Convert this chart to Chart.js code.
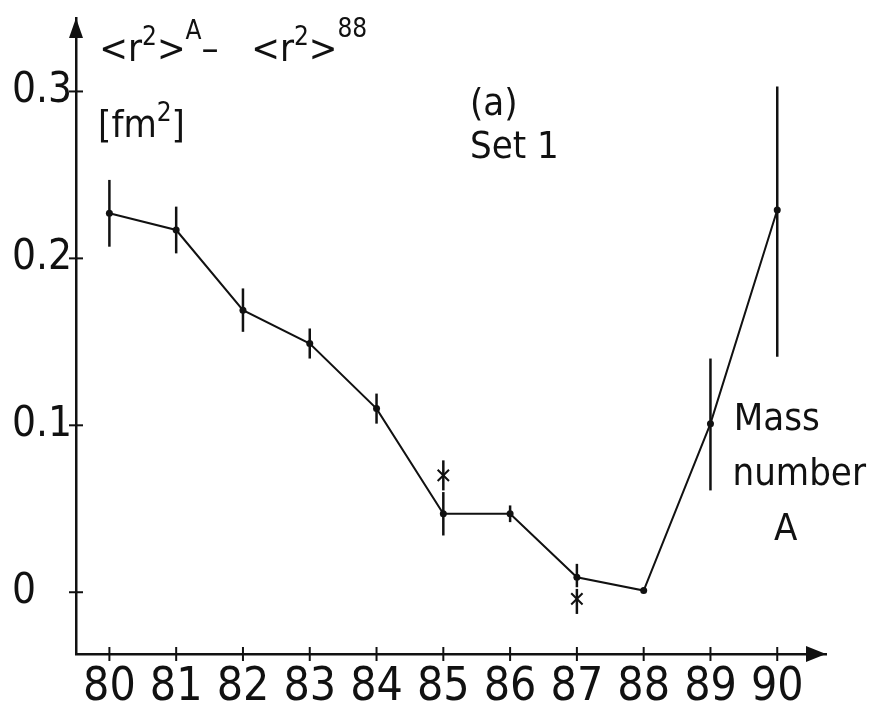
<!DOCTYPE html>
<html>
<head>
<meta charset="utf-8">
<script src="https://cdn.jsdelivr.net/npm/chart.js@4.4.1/dist/chart.umd.min.js"></script>
<style>
  html, body { margin: 0; padding: 0; background: #fff; }
  #wrap { width: 874px; height: 711px; }
</style>
</head>
<body>
<div id="wrap"><canvas id="chart-radius"></canvas></div>
<script>
// mass numbers and isotope shift <r2>^A - <r2>^88 (fm^2), set 1
const massNumbers = [80, 81, 82, 83, 84, 85, 86, 87, 88, 89, 90];
const deltaR2 = [0.227, 0.217, 0.169, 0.149, 0.110, 0.047, 0.047, 0.009, 0.001, 0.101, 0.229];
const errPlus = [0.020, 0.014, 0.013, 0.009, 0.009, 0.013, 0.005, 0.008, 0.0, 0.039, 0.074];
const errMinus = [0.020, 0.014, 0.013, 0.009, 0.009, 0.013, 0.005, 0.006, 0.0, 0.040, 0.088];

// crossed points (other measurement)
const crossMass = [85, 87];
const crossR2 = [0.070, -0.004];
const crossPlus = [0.009, 0.006];
const crossMinus = [0.009, 0.009];

const xTicks = [80, 81, 82, 83, 84, 85, 86, 87, 88, 89, 90];
const yTicks = [0, 0.1, 0.2, 0.3];
const yTickLabels = ["0", "0.1", "0.2", "0.3"];

const FONT = '"DejaVu Sans Condensed", "Liberation Sans Narrow", "DejaVu Sans", sans-serif';
const INK = "#111";

const errorBars = {
    id: "errorBars",
    afterDatasetsDraw(chart) {
        const ctx = chart.ctx;
        const x = chart.scales.x;
        const y = chart.scales.y;
        ctx.save();
        ctx.strokeStyle = INK;
        ctx.lineWidth = 2.5;
        chart.data.datasets.forEach((ds) => {
            if (!ds.errPlus) return;
            ds.data.forEach((p, i) => {
                const up = ds.errPlus[i];
                const dn = ds.errMinus[i];
                if (!up && !dn) return;
                const px = x.getPixelForValue(p.x);
                ctx.beginPath();
                ctx.moveTo(px, y.getPixelForValue(p.y - dn));
                ctx.lineTo(px, y.getPixelForValue(p.y + up));
                ctx.stroke();
            });
        });
        ctx.restore();
    },
};

// axis arrows, tick marks crossing the axes, and the labels in the plot
const axesDeco = {
    id: "axesDeco",
    afterDraw(chart) {
        const ctx = chart.ctx;
        const a = chart.chartArea;
        const x = chart.scales.x;
        const y = chart.scales.y;
        ctx.save();
        ctx.strokeStyle = INK;
        ctx.fillStyle = INK;
        ctx.lineWidth = 2;
        xTicks.forEach((t) => {
            const px = x.getPixelForValue(t);
            ctx.beginPath();
            ctx.moveTo(px, a.bottom - 7);
            ctx.lineTo(px, a.bottom + 7);
            ctx.stroke();
        });
        yTicks.forEach((t) => {
            const py = y.getPixelForValue(t);
            ctx.beginPath();
            ctx.moveTo(a.left - 7, py);
            ctx.lineTo(a.left + 7, py);
            ctx.stroke();
        });
        // arrow heads
        ctx.beginPath();
        ctx.moveTo(a.right, a.bottom);
        ctx.lineTo(a.right - 20, a.bottom - 8);
        ctx.lineTo(a.right - 20, a.bottom + 8);
        ctx.closePath();
        ctx.fill();
        ctx.beginPath();
        ctx.moveTo(a.left, a.top);
        ctx.lineTo(a.left - 7, a.top + 20);
        ctx.lineTo(a.left + 7, a.top + 20);
        ctx.closePath();
        ctx.fill();

        // text pieces: [text, size, dy]
        const runs = (px, py, parts) => {
            let cx = px;
            parts.forEach(([t, size, dy]) => {
                ctx.font = "300 " + size + "px " + FONT;
                ctx.fillText(t, cx, py + dy);
                cx += ctx.measureText(t).width;
            });
        };
        ctx.textBaseline = "alphabetic";
        ctx.textAlign = "left";
        const X = (v) => x.getPixelForValue(v);
        const Y = (v) => y.getPixelForValue(v);
        runs(X(79.85), Y(0.318), [["<r", 38, 0], ["2", 26, -16], [">", 38, 0], ["A", 26, -22], ["\u2013", 38, 0], ["   ", 38, 0], ["<r", 38, 0], ["2", 26, -16], [">", 38, 0], ["88", 26, -24]]);
        runs(X(79.83), Y(0.273), [["[fm", 38, 0], ["2", 26, -16], ["]", 38, 0]]);
        ctx.font = "300 38px " + FONT;
        ctx.fillText("(a)", X(85.4), Y(0.286));
        ctx.fillText("Set 1", X(85.4), Y(0.260));
        ctx.fillText("Mass", X(89.35), Y(0.097));
        ctx.fillText("number", X(89.33), Y(0.064));
        ctx.fillText("A", X(89.95), Y(0.031));
        ctx.restore();
    },
};

new Chart(document.getElementById("chart-radius"), {
    type: "scatter",
    data: {
        datasets: [
            {
                label: "Set 1",
                data: massNumbers.map((m, i) => ({ x: m, y: deltaR2[i] })),
                errPlus: errPlus,
                errMinus: errMinus,
                showLine: true,
                borderColor: INK,
                borderWidth: 2,
                backgroundColor: INK,
                pointRadius: 3.5,
                pointBorderWidth: 0,
                tension: 0,
            },
            {
                label: "other",
                data: crossMass.map((m, i) => ({ x: m, y: crossR2[i] })),
                errPlus: crossPlus,
                errMinus: crossMinus,
                showLine: false,
                pointStyle: "crossRot",
                pointRadius: 8,
                borderColor: INK,
                borderWidth: 2,
            },
        ],
    },
    options: {
        responsive: true,
        maintainAspectRatio: false,
        animation: false,
        layout: { padding: { top: 18, right: 48, left: 12, bottom: 0 } },
        plugins: {
            legend: { display: false },
            tooltip: { enabled: false },
        },
        scales: {
            x: {
                type: "linear",
                min: 79.5,
                max: 90.73,
                afterBuildTicks: (s) => { s.ticks = xTicks.map((v) => ({ value: v })); },
                afterFit: (s) => { s.height = 57; s.paddingLeft = 0; s.paddingRight = 0; },
                grid: { display: false, drawTicks: false },
                border: { display: true, color: INK, width: 2.5 },
                ticks: {
                    color: INK,
                    padding: 6,
                    font: { family: FONT, size: 46, weight: "300" },
                    maxRotation: 0,
                    autoSkip: false,
                    callback: (v) => String(v),
                },
            },
            y: {
                type: "linear",
                min: -0.037,
                max: 0.344,
                afterBuildTicks: (s) => { s.ticks = yTicks.map((v) => ({ value: v })); },
                afterFit: (s) => { s.width = 64; s.paddingTop = 0; s.paddingBottom = 0; },
                grid: { display: false, drawTicks: false },
                border: { display: true, color: INK, width: 2.5 },
                ticks: {
                    color: INK,
                    padding: 14,
                    crossAlign: "far",
                    font: { family: FONT, size: 42, weight: "300" },
                    callback: (v) => yTickLabels[yTicks.indexOf(v)],
                },
            },
        },
    },
    plugins: [errorBars, axesDeco],
});
</script>
</body>
</html>
